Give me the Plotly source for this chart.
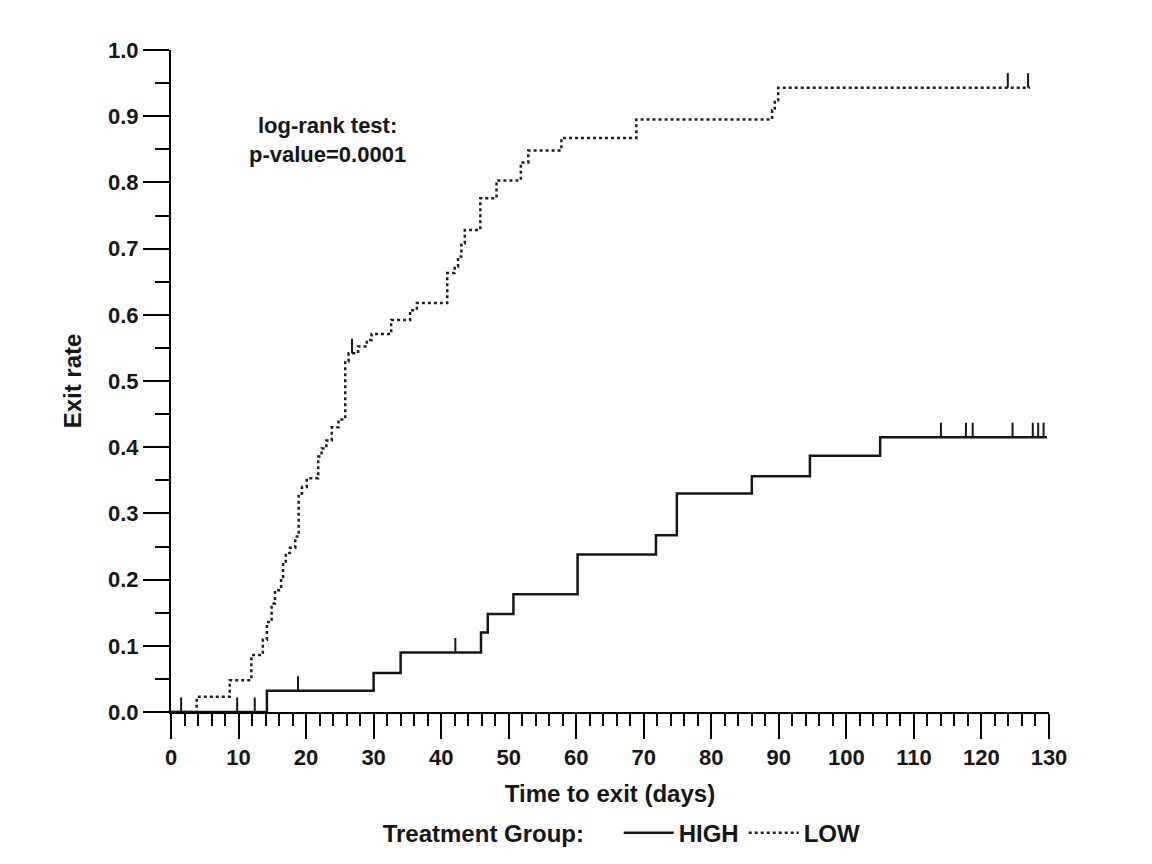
import numpy as np
import plotly.graph_objects as go

# ---- data ----
high_times = [0, 14.2, 30.0, 34.0, 45.9, 46.9, 50.7, 60.2, 71.8, 74.9, 86.0, 94.6, 105.0]
high_rates = [0, 0.032, 0.059, 0.090, 0.120, 0.148, 0.178, 0.238, 0.267, 0.330, 0.356, 0.387, 0.415]
high_end = 129.7
high_censor = [1.5, 9.8, 12.4, 18.8, 42.1, 114.0, 117.7, 118.7, 124.6, 127.6, 128.4, 129.2]

low_times = [0, 3.8, 8.7, 11.9, 13.6, 14.2, 14.9, 15.4, 16.3, 16.6, 17.0, 17.6, 18.4, 18.9,
             19.4, 20.1, 21.8, 22.3, 23.0, 23.8, 24.8, 25.8, 26.3, 27.7, 29.0, 29.7, 32.6,
             35.4, 36.4, 40.9, 42.0, 42.5, 43.0, 43.5, 45.8, 48.2, 51.8, 52.9, 57.8, 68.9,
             89.0, 89.4, 89.9]
low_rates = [0, 0.023, 0.048, 0.086, 0.109, 0.136, 0.164, 0.184, 0.204, 0.225, 0.240, 0.248, 0.265, 0.330,
             0.340, 0.353, 0.386, 0.398, 0.410, 0.430, 0.442, 0.530, 0.542, 0.552, 0.562, 0.571, 0.592,
             0.607, 0.618, 0.663, 0.673, 0.688, 0.708, 0.728, 0.776, 0.803, 0.830, 0.848, 0.867, 0.895,
             0.909, 0.924, 0.943]
low_end = 127.2
low_censor = [26.8, 123.9, 126.9]

x_ticks = list(range(0, 131, 10))
y_ticks = [round(0.1 * i, 1) for i in range(11)]
y_tick_labels = [f"{v:.1f}" for v in y_ticks]

FONT = "Liberation Sans, Arial, sans-serif"
INK = "#161616"
TICK_H = 0.022


def step_value(times, rates, t):
    idx = np.searchsorted(np.array(times), t, side="right") - 1
    return np.array(rates)[idx]


def censor_segments(times, rates, cens):
    xs, ys = [], []
    for t in cens:
        v = float(step_value(times, rates, t))
        xs += [t, t, None]
        ys += [v, v + TICK_H, None]
    return xs, ys


fig = go.Figure()

fig.add_trace(go.Scatter(
    x=high_times + [high_end], y=high_rates + [high_rates[-1]],
    mode="lines", line=dict(shape="hv", color=INK, width=2.5),
    name="HIGH", cliponaxis=False))
hx, hy = censor_segments(high_times, high_rates, high_censor)
fig.add_trace(go.Scatter(x=hx, y=hy, mode="lines", line=dict(color=INK, width=2),
                         showlegend=False, hoverinfo="skip", cliponaxis=False))

fig.add_trace(go.Scatter(
    x=low_times + [low_end], y=low_rates + [low_rates[-1]],
    mode="lines", line=dict(shape="hv", color="#1e1e1e", width=2.5, dash="dot"),
    name="LOW", cliponaxis=False))
lx, ly = censor_segments(low_times, low_rates, low_censor)
fig.add_trace(go.Scatter(x=lx, y=ly, mode="lines", line=dict(color=INK, width=2),
                         showlegend=False, hoverinfo="skip", cliponaxis=False))

fig.add_annotation(
    x=0.178, y=0.864, xref="paper", yref="paper",
    text="log-rank test:<br>p-value=0.0001", showarrow=False,
    font=dict(family=FONT, size=22, color=INK, weight="bold"),
    align="center", xanchor="center", yanchor="middle")

fig.update_xaxes(
    range=[0, 130], tickmode="array", tickvals=x_ticks,
    ticks="outside", ticklen=25, tickwidth=2, tickcolor="black",
    showline=True, linewidth=2, linecolor="black",
    showgrid=False, zeroline=False,
    minor=dict(dtick=2, ticks="outside", ticklen=12, tickwidth=2, tickcolor="black", showgrid=False),
    tickfont=dict(family=FONT, size=22, color=INK, weight="bold"),
    title=dict(text="Time to exit (days)", standoff=16,
               font=dict(family=FONT, size=24, color=INK, weight="bold")))

fig.update_yaxes(
    range=[0, 1.0], tickmode="array", tickvals=y_ticks, ticktext=y_tick_labels,
    ticks="outside", ticklen=26, tickwidth=2, tickcolor="black",
    showline=True, linewidth=2, linecolor="black",
    showgrid=False, zeroline=False,
    minor=dict(dtick=0.05, ticks="outside", ticklen=14, tickwidth=2, tickcolor="black", showgrid=False),
    tickfont=dict(family=FONT, size=22, color=INK, weight="bold"),
    title=dict(text="Exit rate", standoff=20,
               font=dict(family=FONT, size=24, color=INK, weight="bold")))

fig.update_layout(
    width=1152, height=864,
    margin=dict(l=163, r=111, t=42, b=160, autoexpand=False),
    plot_bgcolor="white", paper_bgcolor="white",
    legend=dict(orientation="h", x=0.515, xanchor="center", y=-0.183, yanchor="middle",
                title=dict(text="Treatment Group:    ",
                           font=dict(family=FONT, size=24, color=INK, weight="bold")),
                font=dict(family=FONT, size=24, color=INK, weight="bold"),
                itemwidth=50),
)

fig.write_html("out.html")
